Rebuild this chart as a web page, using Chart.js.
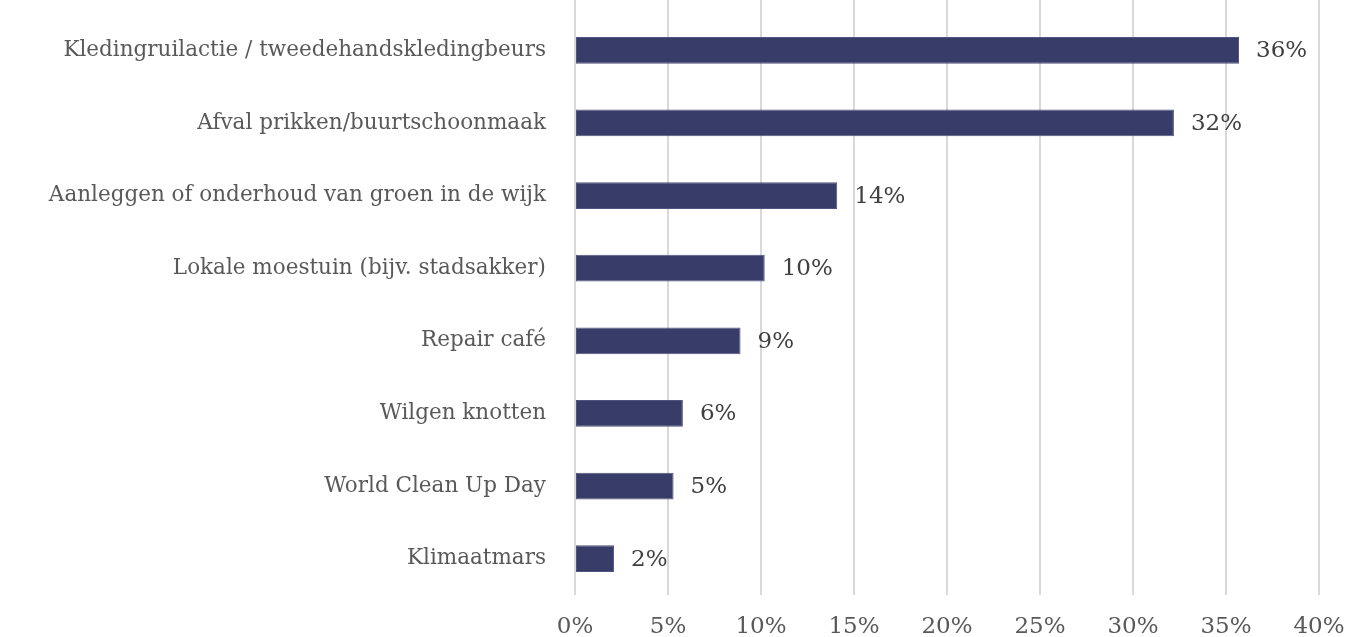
<!DOCTYPE html>
<html>
<head>
<meta charset="utf-8">
<script src="https://cdn.jsdelivr.net/npm/chart.js@4"></script>
<style>
  html, body { margin: 0; padding: 0; background: #fff; }
  #wrap { width: 1350px; height: 637px; }
</style>
</head>
<body>
<div id="wrap"><canvas id="chart" width="1350" height="637"></canvas></div>
<script>
// --- Data ---
const categories = [
    'Kledingruilactie / tweedehandskledingbeurs',
    'Afval prikken/buurtschoonmaak',
    'Aanleggen of onderhoud van groen in de wijk',
    'Lokale moestuin (bijv. stadsakker)',
    'Repair café',
    'Wilgen knotten',
    'World Clean Up Day',
    'Klimaatmars'
];
const values = [35.7, 32.2, 14.1, 10.2, 8.9, 5.8, 5.3, 2.1];
const xTicks = [0, 5, 10, 15, 20, 25, 30, 35, 40];

const FONT = "'DejaVu Serif', serif";
const PLOT_LEFT = 575;
const PLOT_BOTTOM = 595;

// gridlines run up to the top edge, above the first category band
const gridTop = {
    id: 'gridTop',
    beforeDatasetsDraw(chart) {
        const { ctx, chartArea, scales } = chart;
        ctx.save();
        ctx.strokeStyle = '#d9d9d9';
        ctx.lineWidth = 2;
        xTicks.forEach(t => {
            const x = scales.x.getPixelForValue(t);
            ctx.beginPath();
            ctx.moveTo(x, 0);
            ctx.lineTo(x, chartArea.top);
            ctx.stroke();
        });
        ctx.restore();
    }
};

// value labels next to the bars
const barLabels = {
    id: 'barLabels',
    afterDatasetsDraw(chart) {
        const { ctx } = chart;
        const meta = chart.getDatasetMeta(0);
        ctx.save();
        ctx.font = '23px ' + FONT;
        ctx.fillStyle = '#404040';
        ctx.textAlign = 'left';
        ctx.textBaseline = 'middle';
        meta.data.forEach((bar, i) => {
            ctx.fillText(Math.round(values[i]) + '%', bar.x + 17, bar.y + 1);
        });
        ctx.restore();
    }
};

new Chart(document.getElementById('chart'), {
    type: 'bar',
    data: {
        labels: categories,
        datasets: [{
            data: values,
            backgroundColor: '#383c68',
            borderColor: '#50547e',
            borderWidth: 1,
            borderSkipped: false,
            barPercentage: 0.37,
            categoryPercentage: 1
        }]
    },
    options: {
        indexAxis: 'y',
        responsive: false,
        animation: false,
        layout: { padding: { top: 14, right: 31, bottom: 0, left: 0 } },
        plugins: { legend: { display: false }, tooltip: { enabled: false } },
        scales: {
            x: {
                min: 0,
                max: 40,
                afterBuildTicks: s => { s.ticks = xTicks.map(v => ({ value: v })); },
                afterFit: s => {
                    s.height = 637 - PLOT_BOTTOM;
                    s.paddingLeft = 0;
                    s.paddingRight = 0;
                },
                grid: { color: '#d9d9d9', lineWidth: 2, drawTicks: false },
                border: { display: false },
                ticks: {
                    padding: 18,
                    color: '#595959',
                    font: { family: FONT, size: 23 },
                    callback: v => v + '%'
                }
            },
            y: {
                afterFit: s => {
                    s.width = PLOT_LEFT;
                    s.paddingTop = 0;
                    s.paddingBottom = 0;
                },
                grid: { display: false, drawTicks: false },
                border: { display: false },
                ticks: {
                    padding: 29,
                    color: '#595959',
                    font: { family: FONT, size: 21.5 }
                }
            }
        }
    },
    plugins: [gridTop, barLabels]
});
</script>
</body>
</html>
